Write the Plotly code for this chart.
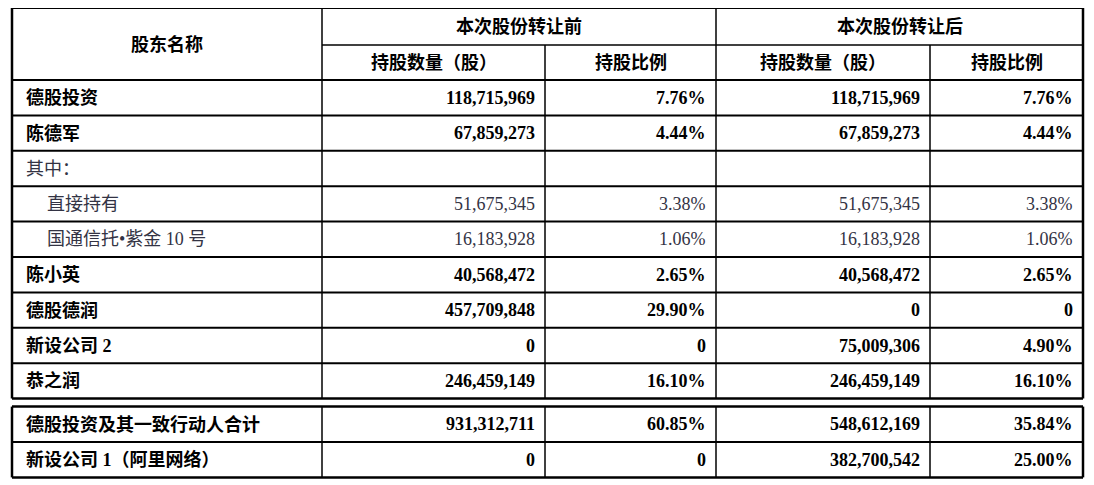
import plotly.graph_objects as go

# 表格数据
names = ["德股投资", "陈德军", "其中：", "直接持有", "国通信托•紫金 10 号", "陈小英",
         "德股德润", "新设公司 2", "恭之润", "德股投资及其一致行动人合计", "新设公司 1（阿里网络）"]
before_shares = ["118,715,969", "67,859,273", "", "51,675,345", "16,183,928", "40,568,472",
                 "457,709,848", "0", "246,459,149", "931,312,711", "0"]
before_ratio = ["7.76%", "4.44%", "", "3.38%", "1.06%", "2.65%", "29.90%", "0", "16.10%", "60.85%", "0"]
after_shares = ["118,715,969", "67,859,273", "", "51,675,345", "16,183,928", "40,568,472",
                "0", "75,009,306", "246,459,149", "548,612,169", "382,700,542"]
after_ratio = ["7.76%", "4.44%", "", "3.38%", "1.06%", "2.65%", "0", "4.90%", "16.10%", "35.84%", "25.00%"]
bold = [True, True, False, False, False, True, True, True, True, True, True]
indent = [False, False, False, True, True, False, False, False, False, False, False]
groups = ["本次股份转让前", "本次股份转让后"]
sub_headers = ["持股数量（股）", "持股比例"]

# 版式（页面自带 8px 边距，这里先减掉）
W, H = 1094, 485
OFF = 8
col_x = [c - OFF for c in [12, 322, 545, 716, 930, 1083]]
top, mid, head_bot = 8 - OFF, 45 - OFF, 80 - OFF
row_h = 35.4
gap = 8
FONT = "Liberation Serif, Noto Sans CJK SC"

fig = go.Figure()
shapes, ann = [], []

def hline(y, x0, x1, w=2):
    shapes.append(dict(type="line", x0=x0, x1=x1, y0=y, y1=y, line=dict(color="black", width=w)))

def vline(x, y0, y1, w=2):
    shapes.append(dict(type="line", x0=x, x1=x, y0=y0, y1=y1, line=dict(color="black", width=w)))

def text(x, y, s, b, anchor, color="black"):
    ann.append(dict(x=x, y=y, text=f"<b>{s}</b>" if b else s, showarrow=False, xanchor=anchor,
                    yanchor="middle", font=dict(family=FONT, size=18, color=color)))

# 行位置
row_tops = []
y = head_bot
for i in range(len(names)):
    if i == 9:
        y += gap
    row_tops.append(y)
    y += row_h
bottom1 = row_tops[8] + row_h
bottom2 = y

# 表头
hline(top, col_x[0], col_x[-1])
hline(mid, col_x[1], col_x[-1], 1.5)
hline(head_bot, col_x[0], col_x[-1])
text((col_x[0] + col_x[1]) / 2, (top + head_bot) / 2, "股东名称", True, "center")
for g in range(2):
    text((col_x[1 + 2 * g] + col_x[3 + 2 * g]) / 2, (top + mid) / 2, groups[g], True, "center")
    for k in range(2):
        c = 1 + 2 * g + k
        text((col_x[c] + col_x[c + 1]) / 2, (mid + head_bot) / 2, sub_headers[k], True, "center")

# 数据行
for i, nm in enumerate(names):
    t = row_tops[i]
    yc = t + row_h / 2
    if i != 8 and i != 10:
        hline(t + row_h, col_x[0], col_x[-1])
    col = "black" if bold[i] else "#333344"
    text(col_x[0] + (33 if indent[i] else 12), yc, nm, bold[i], "left", col)
    vals = [before_shares[i], before_ratio[i], after_shares[i], after_ratio[i]]
    for k, v in enumerate(vals):
        text(col_x[k + 2] - 8, yc, v, bold[i], "right", col)
hline(bottom1, col_x[0], col_x[-1], 2.5)
hline(row_tops[9], col_x[0], col_x[-1], 2.5)
hline(bottom2, col_x[0], col_x[-1], 2.5)

# 竖线
for seg in [(top, bottom1), (row_tops[9], bottom2)]:
    vline(col_x[0], *seg, 2.5)
    vline(col_x[-1], *seg, 2.5)
    vline(col_x[1], *seg, 1.5)
    vline(col_x[3], *seg, 1.5)
    for c in (2, 4):
        vline(col_x[c], max(seg[0], mid), seg[1], 1.5)

fig.update_layout(width=W, height=H, margin=dict(l=0, r=0, t=0, b=0),
                  plot_bgcolor="white", paper_bgcolor="white",
                  shapes=shapes, annotations=ann, showlegend=False,
                  xaxis=dict(range=[0, W], visible=False, fixedrange=True),
                  yaxis=dict(range=[H, 0], visible=False, fixedrange=True))
fig.write_html("out.html")
